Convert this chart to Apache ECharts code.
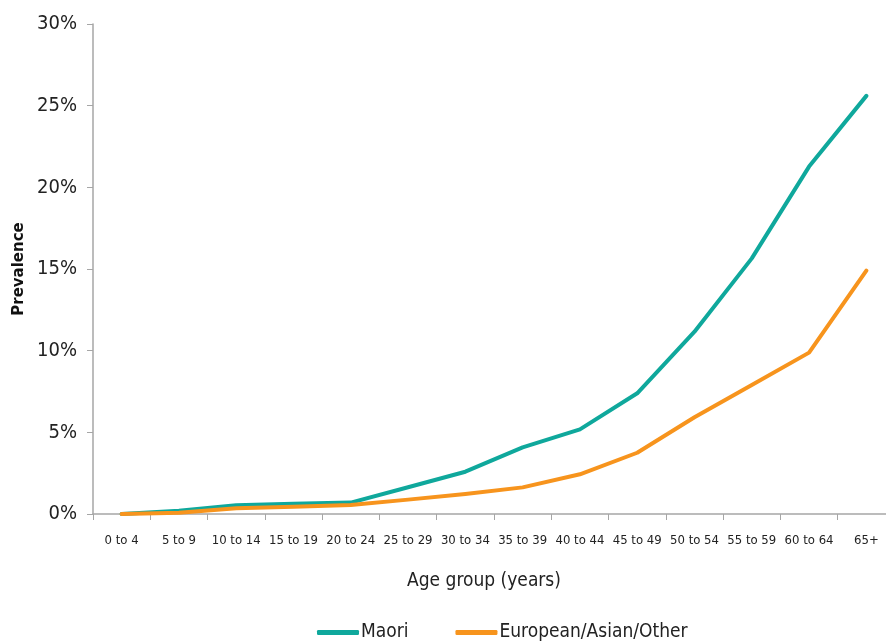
<!DOCTYPE html>
<html>
<head>
<meta charset="utf-8">
<script src="https://cdn.jsdelivr.net/npm/echarts@6/dist/echarts.min.js"></script>
<style>
html,body{margin:0;padding:0;background:#fff;}
#chart{width:886px;height:643px;}
</style>
</head>
<body>
<div id="chart"></div>
<script>
var categories = ['0 to 4','5 to 9','10 to 14','15 to 19','20 to 24','25 to 29','30 to 34','35 to 39','40 to 44','45 to 49','50 to 54','55 to 59','60 to 64','65+'];
var maori = [0, 0.2, 0.53, 0.63, 0.7, 1.64, 2.59, 4.08, 5.18, 7.39, 11.16, 15.65, 21.27, 25.6];
var european = [0, 0.08, 0.35, 0.45, 0.55, 0.88, 1.22, 1.63, 2.43, 3.75, 5.92, 7.9, 9.88, 14.9];
var yTicks = [0, 5, 10, 15, 20, 25, 30];

var narrow = '"Liberation Sans Narrow", "DejaVu Sans Condensed", "Roboto Condensed", sans-serif';
var chart = echarts.init(document.getElementById('chart'));
chart.setOption({
  animation: false,
  grid: {left: 93, right: -9, top: 24, bottom: 129, containLabel: false, outerBoundsMode: 'none'},
  legend: {
    left: 312,
    top: 618,
    itemWidth: 42,
    itemHeight: 5,
    itemGap: 47,
    icon: 'roundRect',
    textStyle: {fontFamily: narrow, fontSize: 19, color: '#222', padding: [0,0,0,-3]},
    data: ['Maori', 'European/Asian/Other']
  },
  xAxis: {
    type: 'category',
    data: categories,
    boundaryGap: true,
    name: 'Age group (years)',
    nameLocation: 'middle',
    nameGap: 58,
    nameTextStyle: {fontFamily: narrow, fontSize: 19, color: '#222', padding: [0, 20, 0, 0]},
    axisLine: {lineStyle: {color: '#a6a6a6', width: 1.5}},
    axisTick: {show: true, length: 6, lineStyle: {color: '#a6a6a6'}},
    axisLabel: {fontFamily: narrow, fontSize: 13, color: '#222', margin: 20, interval: 0}
  },
  yAxis: {
    type: 'value',
    min: yTicks[0],
    max: yTicks[yTicks.length - 1],
    interval: 5,
    name: 'Prevalence',
    nameLocation: 'middle',
    nameGap: 66,
    nameRotate: 90,
    nameTextStyle: {fontFamily: '"DejaVu Sans", Verdana, sans-serif', fontSize: 15, fontWeight: 'bold', color: '#111'},
    splitLine: {show: false},
    axisLine: {show: true, lineStyle: {color: '#a6a6a6', width: 1.5}},
    axisTick: {show: true, length: 6, lineStyle: {color: '#a6a6a6'}},
    axisLabel: {fontFamily: narrow, fontSize: 20, color: '#222', margin: 16, formatter: '{value}%'}
  },
  series: [
    {
      name: 'Maori',
      type: 'line',
      data: maori,
      symbol: 'none',
      lineStyle: {color: '#0FA89C', width: 4, cap: 'round', join: 'round'},
      itemStyle: {color: '#0FA89C'},
      z: 2
    },
    {
      name: 'European/Asian/Other',
      type: 'line',
      data: european,
      symbol: 'none',
      lineStyle: {color: '#F7941D', width: 4, cap: 'round', join: 'round'},
      itemStyle: {color: '#F7941D'},
      z: 3
    }
  ]
});
</script>
</body>
</html>
